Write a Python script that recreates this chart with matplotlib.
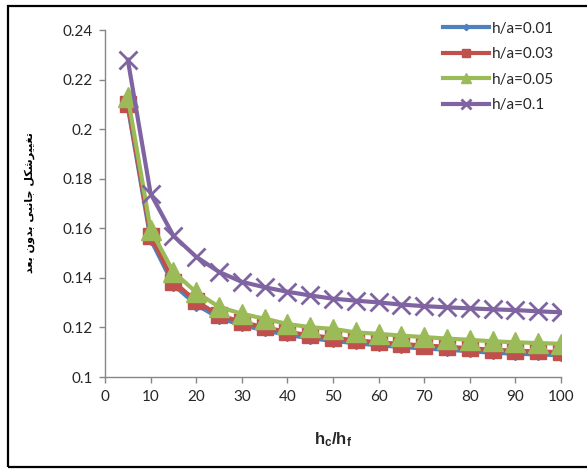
import matplotlib
matplotlib.use("Agg")
import matplotlib.pyplot as plt
from matplotlib.patches import Rectangle

# ---------------- data ----------------
ratio = [5, 10, 15, 20, 25, 30, 35, 40, 45, 50, 55, 60, 65, 70, 75, 80, 85, 90, 95, 100]
ha_001 = [0.209, 0.1555, 0.1372, 0.1292, 0.1238, 0.1210, 0.1188, 0.1170, 0.1156, 0.1146,
          0.1136, 0.1128, 0.1121, 0.1115, 0.1110, 0.1104, 0.1098, 0.1094, 0.1091, 0.1088]
ha_003 = [0.210, 0.1570, 0.1385, 0.1305, 0.1250, 0.1222, 0.1200, 0.1182, 0.1168, 0.1158,
          0.1148, 0.1140, 0.1133, 0.1127, 0.1122, 0.1116, 0.1110, 0.1106, 0.1103, 0.1100]
ha_005 = [0.213, 0.1595, 0.1424, 0.1342, 0.1283, 0.1255, 0.1235, 0.1214, 0.1201, 0.1194,
          0.1180, 0.1174, 0.1167, 0.1161, 0.1155, 0.1150, 0.1144, 0.1140, 0.1137, 0.1134]
ha_010 = [0.228, 0.174, 0.157, 0.1485, 0.1424, 0.1384, 0.1362, 0.1344, 0.1329, 0.1316,
          0.1308, 0.1301, 0.1292, 0.1286, 0.1281, 0.1277, 0.1273, 0.1270, 0.1265, 0.1261]
series_labels = ["h/a=0.01", "h/a=0.03", "h/a=0.05", "h/a=0.1"]
x_ticks = [0, 10, 20, 30, 40, 50, 60, 70, 80, 90, 100]
y_ticks = [0.1, 0.12, 0.14, 0.16, 0.18, 0.2, 0.22, 0.24]
y_tick_labels = ["0.1", "0.12", "0.14", "0.16", "0.18", "0.2", "0.22", "0.24"]
x_label = r"$\mathbf{h_c/h_f}$"
y_label = "تغییرشکل جانبی بدون بعد"

# ---------------- simple Arabic/Persian shaping ----------------
FORMS = {  # isolated, final, initial, medial
    'ت': ('\uFE95', '\uFE96', '\uFE97', '\uFE98'),
    'غ': ('\uFECD', '\uFECE', '\uFECF', '\uFED0'),
    'ی': ('\uFBFC', '\uFBFD', '\uFBFE', '\uFBFF'),
    'ر': ('\uFEAD', '\uFEAE', None, None),
    'ش': ('\uFEB5', '\uFEB6', '\uFEB7', '\uFEB8'),
    'ک': ('\uFB8E', '\uFB8F', '\uFB90', '\uFB91'),
    'ل': ('\uFEDD', '\uFEDE', '\uFEDF', '\uFEE0'),
    'ج': ('\uFE9D', '\uFE9E', '\uFE9F', '\uFEA0'),
    'ا': ('\uFE8D', '\uFE8E', None, None),
    'ن': ('\uFEE5', '\uFEE6', '\uFEE7', '\uFEE8'),
    'ب': ('\uFE8F', '\uFE90', '\uFE91', '\uFE92'),
    'د': ('\uFEA9', '\uFEAA', None, None),
    'و': ('\uFEED', '\uFEEE', None, None),
    'ع': ('\uFEC9', '\uFECA', '\uFECB', '\uFECC'),
}


def shape_rtl(text):
    out = []
    n = len(text)
    for i, ch in enumerate(text):
        if ch not in FORMS:
            out.append(ch)
            continue
        prev = text[i - 1] if i > 0 else None
        nxt = text[i + 1] if i < n - 1 else None
        join_prev = prev in FORMS and FORMS[prev][2] is not None
        join_next = nxt in FORMS and FORMS[ch][2] is not None
        f = FORMS[ch]
        if join_prev and join_next:
            out.append(f[3])
        elif join_prev:
            out.append(f[1])
        elif join_next:
            out.append(f[2])
        else:
            out.append(f[0])
    return "".join(out)[::-1]


# ---------------- figure ----------------
plt.rcParams['font.family'] = ['Lato', 'DejaVu Sans']
plt.rcParams['mathtext.fontset'] = 'custom'
plt.rcParams['mathtext.rm'] = 'Liberation Sans:bold'
plt.rcParams['mathtext.bf'] = 'Liberation Sans:bold'
plt.rcParams['mathtext.it'] = 'Liberation Sans:bold'

fig = plt.figure(figsize=(5.87, 4.69), dpi=100)
ax = fig.add_axes([105 / 587, 1 - 377 / 469, (561 - 105) / 587, (377 - 30) / 469])

blue, red, green, purple = '#4F81BD', '#C0504D', '#9BBB59', '#8064A2'
lw = 3.0
ax.plot(ratio, ha_001, color=blue, lw=lw, marker='D', ms=6.5, mec=blue, mfc=blue,
        label=series_labels[0], zorder=3)
ax.plot(ratio, ha_003, color=red, lw=lw, marker='s', ms=11.5, mec=red, mfc=red,
        label=series_labels[1], zorder=4)
ax.plot(ratio, ha_005, color=green, lw=lw, marker='^', ms=14, mec=green, mfc=green,
        label=series_labels[2], zorder=5)
ax.plot(ratio, ha_010, color=purple, lw=lw, marker='x', ms=13, mew=2.0, mec=purple,
        label=series_labels[3], zorder=6)

ax.set_xlim(0, 100)
ax.set_ylim(0.1, 0.24)
ax.set_xticks(x_ticks)
ax.set_yticks(y_ticks)
ax.set_yticklabels(y_tick_labels)
ax.tick_params(axis='both', direction='out', length=4, width=1, color='#868686',
               labelsize=11, labelcolor='#262626', pad=5)
for s in ('top', 'right'):
    ax.spines[s].set_visible(False)
for s in ('left', 'bottom'):
    ax.spines[s].set_color('#868686')
    ax.spines[s].set_linewidth(1)

fig.text(333 / 587, 1 - 440 / 469, x_label, ha='center', va='center', fontsize=12,
         color='#262626')
fig.text(30 / 587, 1 - 203 / 469, shape_rtl(y_label), rotation=90, ha='center',
         va='center', fontsize=8, fontweight='bold', family='DejaVu Sans',
         color='black')

leg = ax.legend(loc='upper right', bbox_to_anchor=(568 / 587, 1 - 8 / 469),
                bbox_transform=fig.transFigure, frameon=False, fontsize=11,
                handlelength=3.0, handletextpad=0.2, labelspacing=0.75,
                markerscale=0.5)
for t in leg.get_texts():
    t.set_color('#262626')

fig.patches.append(Rectangle((8 / 587, 1 - 467 / 469), 0.99, (467 - 6) / 469,
                             transform=fig.transFigure, fill=False, ec='black',
                             lw=1.6, clip_on=False))

fig.savefig('out.png', dpi=100)
